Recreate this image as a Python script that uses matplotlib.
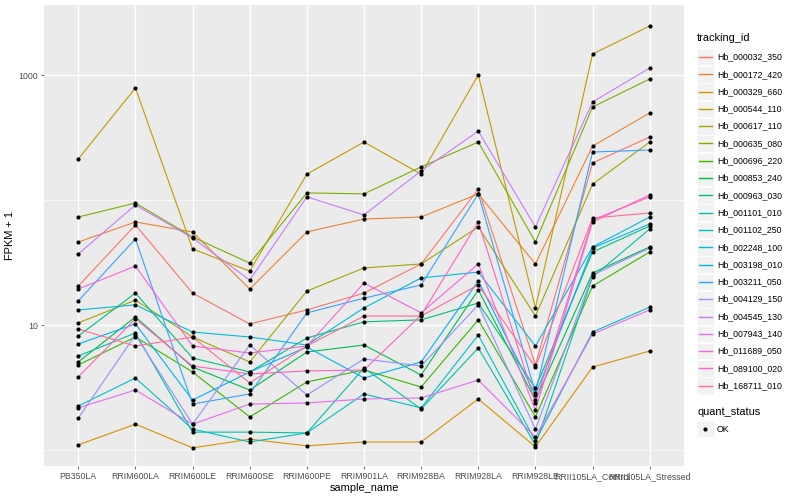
import numpy as np
import matplotlib
matplotlib.use("Agg")
import matplotlib.pyplot as plt
from matplotlib.patches import Rectangle
from matplotlib.lines import Line2D

plt.rcParams['font.family'] = ['Liberation Sans', 'DejaVu Sans']

samples = ["PB350LA", "RRIM600LA", "RRIM600LE", "RRIM600SE", "RRIM600PE", "RRIM901LA",
           "RRIM928BA", "RRIM928LA", "RRIM928LE", "RRII105LA_Control", "RRII105LA_Stressed"]

tracking_ids = ["Hb_000032_350", "Hb_000172_420", "Hb_000329_660", "Hb_000544_110", "Hb_000617_110",
                "Hb_000635_080", "Hb_000696_220", "Hb_000853_240", "Hb_000963_030", "Hb_001101_010",
                "Hb_001102_250", "Hb_002248_100", "Hb_003198_010", "Hb_003211_050", "Hb_004129_150",
                "Hb_004545_130", "Hb_007943_140", "Hb_011689_050", "Hb_089100_020", "Hb_168711_010"]

# FPKM + 1 per gene, in sample order
fpkm = {
    "Hb_000032_350": [20.5, 63.1, 18.0, 10.2, 13.2, 18.0, 30.8, 122, 4.79, 198, 319],
    "Hb_000172_420": [46.1, 66.7, 55.5, 19.4, 55.5, 70.5, 73.1, 112, 30.8, 270, 497],
    "Hb_000329_660": [1.10, 1.61, 1.04, 1.22, 1.08, 1.16, 1.16, 2.56, 1.06, 4.61, 6.19],
    "Hb_000544_110": [213, 787, 40.6, 27.0, 161, 291, 161, 1000, 13.7, 1472, 2466],
    "Hb_000617_110": [10.4, 15.8, 8.02, 5.06, 18.7, 28.6, 30.8, 60.8, 11.8, 134, 291],
    "Hb_000635_080": [73.1, 94.6, 50.6, 31.3, 114, 112, 184, 291, 46.1, 555, 929],
    "Hb_000696_220": [4.79, 8.02, 4.21, 1.84, 3.50, 4.37, 3.19, 11.0, 1.84, 20.5, 38.4],
    "Hb_000853_240": [5.06, 11.6, 4.61, 3.02, 6.08, 6.92, 3.98, 19.1, 2.51, 26.1, 42.1],
    "Hb_000963_030": [8.17, 18.0, 5.45, 4.21, 7.87, 10.6, 11.0, 15.0, 3.13, 38.4, 61.9],
    "Hb_001101_010": [5.65, 8.63, 1.39, 1.39, 1.37, 4.53, 2.13, 6.55, 1.10, 24.2, 58.6],
    "Hb_001102_250": [2.25, 3.77, 1.47, 1.16, 1.37, 2.81, 2.17, 8.32, 1.18, 8.79, 13.9],
    "Hb_002248_100": [13.2, 14.5, 8.79, 8.02, 6.92, 13.7, 23.8, 26.5, 6.79, 42.1, 73.1],
    "Hb_003198_010": [7.05, 10.2, 2.51, 4.21, 6.67, 3.77, 5.06, 22.5, 2.75, 41.3, 64.3],
    "Hb_003211_050": [15.6, 48.8, 2.33, 2.81, 12.5, 16.4, 20.9, 112, 2.86, 242, 251],
    "Hb_004129_150": [1.80, 8.32, 1.61, 6.92, 2.75, 5.35, 4.70, 14.5, 1.47, 25.1, 41.3],
    "Hb_004545_130": [37.0, 91.2, 49.7, 22.9, 106, 75.9, 171, 356, 60.8, 608, 1138],
    "Hb_007943_140": [2.17, 3.02, 1.61, 2.33, 2.38, 2.56, 2.61, 3.63, 1.27, 8.47, 13.2],
    "Hb_011689_050": [19.4, 29.6, 6.79, 5.97, 6.79, 21.7, 12.5, 30.8, 2.09, 66.7, 110],
    "Hb_089100_020": [3.84, 11.2, 4.70, 4.06, 4.29, 4.37, 12.0, 66.7, 2.38, 69.2, 106],
    "Hb_168711_010": [9.29, 6.79, 8.02, 3.44, 6.79, 11.8, 11.8, 20.9, 4.61, 71.8, 78.7],
}

# ggplot2 default hue palette for 20 levels
colors = ["#F8766D", "#EA8331", "#D89000", "#C09B00", "#A3A500", "#7CAE00", "#39B600", "#00BB4E",
          "#00BF7D", "#00C1A3", "#00BFC4", "#00BAE0", "#00B0F6", "#35A2FF", "#9590FF", "#C77CFF",
          "#E76BF3", "#FA62DB", "#FF62BC", "#FF6C91"]

W, H = 800, 500
fig = plt.figure(figsize=(8, 5), dpi=100)
ax = fig.add_axes([44 / W, 1 - 466 / H, 640 / W, 461 / H])
ax.set_facecolor('#EBEBEB')
for s in ax.spines.values():
    s.set_visible(False)

x = np.arange(1, len(samples) + 1)
for gid, col in zip(tracking_ids, colors):
    ax.plot(x, fpkm[gid], color=col, lw=0.8, zorder=2)
for gid in tracking_ids:
    ax.plot(x, fpkm[gid], 'o', color='black', ms=3.0, mew=0, zorder=3)

ax.set_yscale('log')
ax.set_ylim(0.745, 3631)
ax.set_xlim(0.4, 11.6)
ax.set_yticks([10, 1000])
ax.set_yticklabels(["10", "1000"])
ax.set_yticks([1, 100], minor=True)
ax.yaxis.set_minor_formatter(plt.NullFormatter())
ax.set_xticks(x)
ax.set_xticklabels(samples)
ax.grid(True, which='major', color='white', lw=1.0, zorder=0)
ax.grid(True, which='minor', axis='y', color='white', lw=0.5, zorder=0)
ax.set_axisbelow(True)
ax.tick_params(axis='both', which='major', length=2.5, width=0.5, color='#333333',
               labelsize=6.3, labelcolor='#4D4D4D', pad=2)
ax.tick_params(axis='y', which='minor', length=0)
ax.set_xlabel("sample_name", fontsize=7.9, labelpad=1)
ax.set_ylabel("FPKM + 1", fontsize=7.9, labelpad=2)

# legend, drawn in pixel coordinates of the figure
def fx(px):
    return px / W

def fy(py):
    return 1 - py / H

fig.text(fx(697), fy(38), "tracking_id", fontsize=7.9, va='center', ha='left')
step = 17.3
for i, (gid, col) in enumerate(zip(tracking_ids, colors)):
    yc = 57 + i * step
    fig.add_artist(Rectangle((fx(697), fy(yc + 8.3)), 16.6 / W, 16.6 / H,
                             transform=fig.transFigure, facecolor='#F2F2F2',
                             edgecolor='white', lw=0.5, zorder=1))
    fig.add_artist(Line2D([fx(698.5), fx(712)], [fy(yc), fy(yc)], color=col, lw=1.0,
                          transform=fig.transFigure, zorder=3))
    fig.text(fx(717), fy(yc), gid, fontsize=6.3, va='center', ha='left')

fig.text(fx(697), fy(412), "quant_status", fontsize=7.9, va='center', ha='left')
fig.add_artist(Rectangle((fx(697), fy(429 + 8.3)), 16.6 / W, 16.6 / H,
                         transform=fig.transFigure, facecolor='#F2F2F2', edgecolor='white',
                         lw=0.5, zorder=1))
fig.add_artist(Line2D([fx(705.3)], [fy(429)], marker='o', color='black', ms=3.0, mew=0, lw=0,
                      transform=fig.transFigure, zorder=3))
fig.text(fx(717), fy(429), "OK", fontsize=6.3, va='center', ha='left')

fig.savefig("out.png", dpi=100)
